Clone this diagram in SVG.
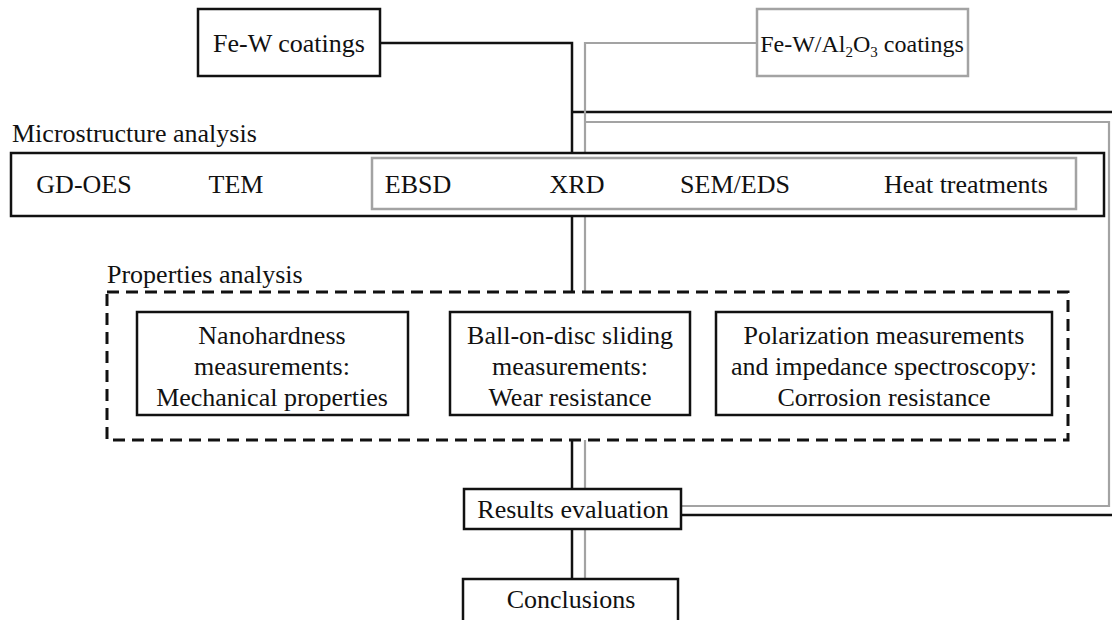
<svg xmlns="http://www.w3.org/2000/svg" width="1112" height="620" viewBox="0 0 1112 620">
<style>
text{font-family:"Liberation Serif","DejaVu Serif",serif;font-size:26px;fill:#111;}
.c{text-anchor:middle;}
.sm{font-size:24px;}
.box{fill:#fff;stroke:#111;stroke-width:2.5;}
.gbox{fill:none;stroke:#a3a3a3;stroke-width:2.5;}
.dash{fill:none;stroke:#111;stroke-width:3;stroke-dasharray:12 7;}
.bl{fill:none;stroke:#111;stroke-width:2.5;}
.gl{fill:none;stroke:#a3a3a3;stroke-width:2.2;}
</style>
<rect width="1112" height="620" fill="#fff"/>
<g id="connectors">
<polyline class="bl" points="380,43 572,43 572,153"/>
<line class="bl" x1="572" y1="112" x2="1112" y2="112"/>
<line class="bl" x1="572" y1="216" x2="572" y2="292"/>
<line class="bl" x1="572" y1="440" x2="572" y2="489"/>
<line class="bl" x1="572" y1="529" x2="572" y2="579"/>
<line class="bl" x1="681" y1="515" x2="1112" y2="515"/>
<polyline class="gl" points="757,43 585,43 585,158"/>
<polyline class="gl" points="585,122 1109,122 1109,506 681,506"/>
<line class="gl" x1="585" y1="209" x2="585" y2="292"/>
<line class="gl" x1="585" y1="440" x2="585" y2="489"/>
<line class="gl" x1="585" y1="529" x2="585" y2="579"/>
</g>
<g id="fe-w">
<rect class="box" x="198" y="9" width="182" height="67"/>
<text class="c" x="289" y="52">Fe-W coatings</text>
</g>
<g id="fe-w-al2o3">
<rect x="757" y="9" width="211" height="67" fill="#fff" stroke="#a3a3a3" stroke-width="2.5"/>
<text class="c sm" x="862" y="52">Fe-W/Al<tspan font-size="15" dy="5">2</tspan><tspan dy="-5">O</tspan><tspan font-size="15" dy="5">3</tspan><tspan dy="-5"> coatings</tspan></text>
</g>
<g id="microstructure">
<text x="12" y="142">Microstructure analysis</text>
<rect class="box" x="11" y="153" width="1093" height="63"/>
<rect class="gbox" x="372" y="158" width="704" height="51"/>
<text class="c" x="84" y="193">GD-OES</text>
<text class="c" x="236" y="193">TEM</text>
<text class="c" x="418" y="193">EBSD</text>
<text class="c" x="577" y="193">XRD</text>
<text class="c" x="735" y="193">SEM/EDS</text>
<text class="c" x="966" y="193">Heat treatments</text>
</g>
<g id="properties">
<text x="107" y="283">Properties analysis</text>
<rect class="dash" x="107" y="292" width="961" height="148"/>
</g>
<g id="nanohardness">
<rect class="box" x="137" y="312" width="271" height="103"/>
<text class="c" x="272" y="344">Nanohardness</text>
<text class="c" x="272" y="375">measurements:</text>
<text class="c" x="272" y="406">Mechanical properties</text>
</g>
<g id="ball-on-disc">
<rect class="box" x="450" y="312" width="240" height="103"/>
<text class="c" x="570" y="344">Ball-on-disc sliding</text>
<text class="c" x="570" y="375">measurements:</text>
<text class="c" x="570" y="406">Wear resistance</text>
</g>
<g id="polarization">
<rect class="box" x="716" y="312" width="336" height="103"/>
<text class="c" x="884" y="344">Polarization measurements</text>
<text class="c" x="884" y="375">and impedance spectroscopy:</text>
<text class="c" x="884" y="406">Corrosion resistance</text>
</g>
<g id="results">
<rect class="box" x="464" y="489" width="217" height="40"/>
<text class="c" x="573" y="518">Results evaluation</text>
</g>
<g id="conclusions">
<rect class="box" x="463" y="579" width="215" height="44"/>
<text class="c" x="571" y="608">Conclusions</text>
</g>
</svg>
